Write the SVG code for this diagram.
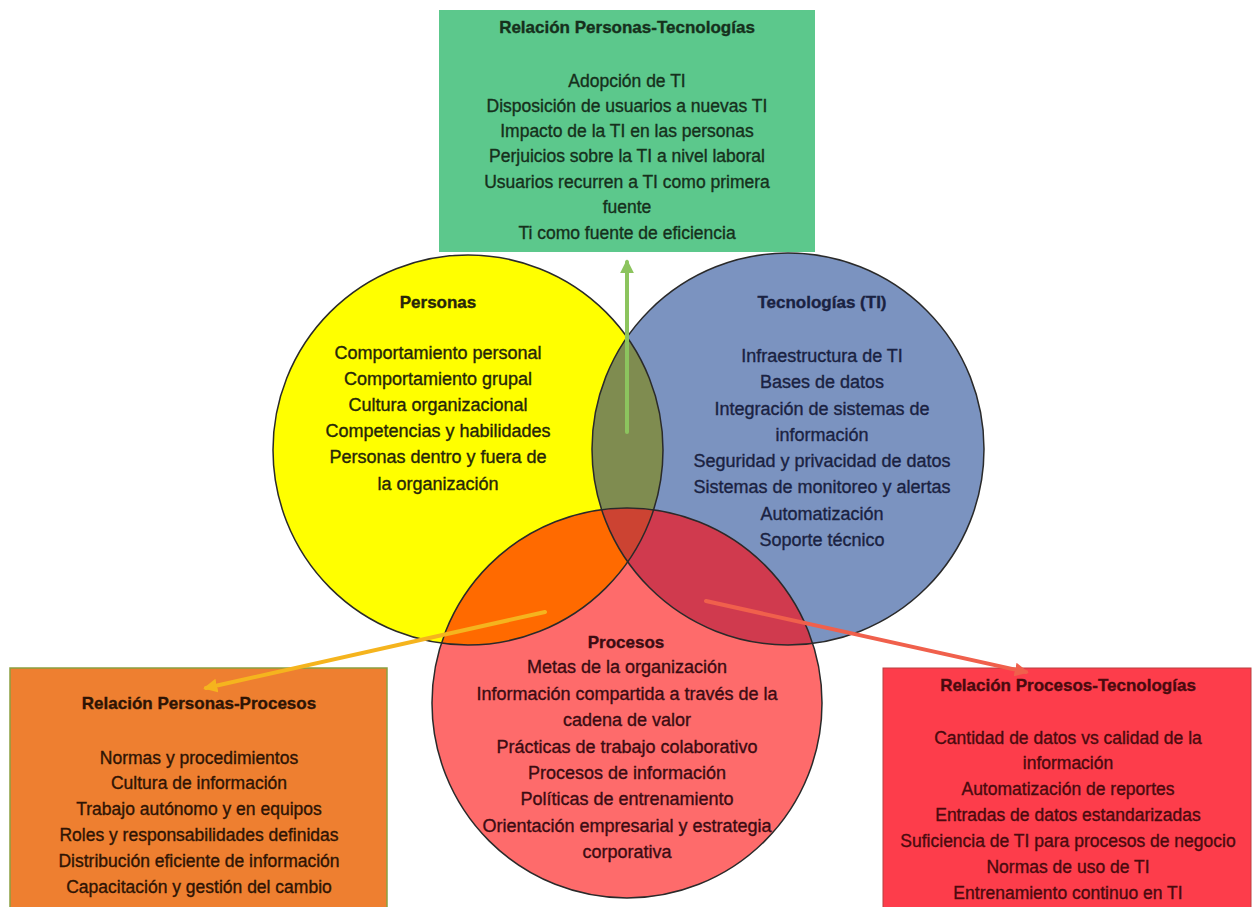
<svg xmlns="http://www.w3.org/2000/svg" width="1254" height="907" viewBox="0 0 1254 907">
<style>
text{font-family:"Liberation Sans",Arial,sans-serif;text-anchor:middle;stroke-width:0.35}
.t{font-weight:bold;font-size:17px}
.b{font-size:17.5px}
.c{font-size:18px}
.outline{fill:none;stroke:#2a2a2a;stroke-width:1.5}
.conn{fill:none;stroke-width:4;stroke-linecap:round}
</style>
<defs>
<clipPath id="cY"><circle cx="468" cy="450" r="195"/></clipPath>
<clipPath id="cB"><circle cx="788" cy="449" r="196"/></clipPath>
<clipPath id="cR"><circle cx="627" cy="703" r="195"/></clipPath>
<marker id="mG" viewBox="0 0 10 10" refX="8" refY="5" markerWidth="3.5" markerHeight="3.5" orient="auto"><path d="M0,0L10,5L0,10z" fill="#8cc45e"/></marker>
<marker id="mY" viewBox="0 0 10 10" refX="8" refY="5" markerWidth="3.5" markerHeight="3.5" orient="auto"><path d="M0,0L10,5L0,10z" fill="#f5b41e"/></marker>
<marker id="mR" viewBox="0 0 10 10" refX="8" refY="5" markerWidth="3.5" markerHeight="3.5" orient="auto"><path d="M0,0L10,5L0,10z" fill="#f0604c"/></marker>
</defs>
<rect width="1254" height="907" fill="#ffffff"/>

<g id="rel-personas-tecnologias">
<rect x="439" y="10" width="376" height="242" fill="#5cc88c"/>
<g fill="#16301c" stroke="#16301c">
<text class="t" x="627" y="33">Relación Personas-Tecnologías</text>
<text class="b" x="627" y="87">Adopción de TI</text>
<text class="b" x="627" y="112">Disposición de usuarios a nuevas TI</text>
<text class="b" x="627" y="137">Impacto de la TI en las personas</text>
<text class="b" x="627" y="162">Perjuicios sobre la TI a nivel laboral</text>
<text class="b" x="627" y="188">Usuarios recurren a TI como primera</text>
<text class="b" x="627" y="213">fuente</text>
<text class="b" x="627" y="239">Ti como fuente de eficiencia</text>
</g>
</g>

<g id="venn-fills">
<circle cx="468" cy="450" r="195" fill="#ffff00"/>
<circle cx="788" cy="449" r="196" fill="#7b93c0"/>
<circle cx="627" cy="703" r="195" fill="#fe6b6b"/>
<g clip-path="url(#cY)"><circle cx="788" cy="449" r="196" fill="#7f8c50"/></g>
<g clip-path="url(#cY)"><circle cx="627" cy="703" r="195" fill="#ff6a00"/></g>
<g clip-path="url(#cB)"><circle cx="627" cy="703" r="195" fill="#d03a4e"/></g>
<g clip-path="url(#cY)"><g clip-path="url(#cB)"><circle cx="627" cy="703" r="195" fill="#cc4332"/></g></g>
</g>

<g id="personas">
<circle class="outline" cx="468" cy="450" r="195"/>
<g fill="#26260a" stroke="#26260a">
<text class="t" x="438" y="308">Personas</text>
<text class="c" x="438" y="359">Comportamiento personal</text>
<text class="c" x="438" y="385">Comportamiento grupal</text>
<text class="c" x="438" y="411">Cultura organizacional</text>
<text class="c" x="438" y="437">Competencias y habilidades</text>
<text class="c" x="438" y="463">Personas dentro y fuera de</text>
<text class="c" x="438" y="490">la organización</text>
</g>
</g>

<g id="tecnologias">
<circle class="outline" cx="788" cy="449" r="196"/>
<g fill="#1a2242" stroke="#1a2242">
<text class="t" x="822" y="308">Tecnologías (TI)</text>
<text class="c" x="822" y="362">Infraestructura de TI</text>
<text class="c" x="822" y="388">Bases de datos</text>
<text class="c" x="822" y="415">Integración de sistemas de</text>
<text class="c" x="822" y="441">información</text>
<text class="c" x="822" y="467">Seguridad y privacidad de datos</text>
<text class="c" x="822" y="493">Sistemas de monitoreo y alertas</text>
<text class="c" x="822" y="520">Automatización</text>
<text class="c" x="822" y="546">Soporte técnico</text>
</g>
</g>

<g id="procesos">
<circle class="outline" cx="627" cy="703" r="195"/>
<g fill="#3c0c12" stroke="#3c0c12">
<text class="t" x="626" y="648">Procesos</text>
<text class="c" x="627" y="673">Metas de la organización</text>
<text class="c" x="627" y="700">Información compartida a través de la</text>
<text class="c" x="627" y="726">cadena de valor</text>
<text class="c" x="627" y="753">Prácticas de trabajo colaborativo</text>
<text class="c" x="627" y="779">Procesos de información</text>
<text class="c" x="627" y="805">Políticas de entrenamiento</text>
<text class="c" x="627" y="832">Orientación empresarial y estrategia</text>
<text class="c" x="627" y="858">corporativa</text>
</g>
</g>

<g id="rel-personas-procesos">
<rect x="10" y="668" width="377" height="245" fill="#ee7f30" stroke="#8aa040" stroke-width="1.5"/>
<g fill="#2e1404" stroke="#2e1404">
<text class="t" x="199" y="709">Relación Personas-Procesos</text>
<text class="b" x="199" y="764">Normas y procedimientos</text>
<text class="b" x="199" y="789">Cultura de información</text>
<text class="b" x="199" y="815">Trabajo autónomo y en equipos</text>
<text class="b" x="199" y="841">Roles y responsabilidades definidas</text>
<text class="b" x="199" y="867">Distribución eficiente de información</text>
<text class="b" x="199" y="893">Capacitación y gestión del cambio</text>
</g>
</g>

<g id="rel-procesos-tecnologias">
<rect x="883" y="668" width="368" height="245" fill="#fd3d4b" stroke="#b84040" stroke-width="1"/>
<g fill="#4a0a0e" stroke="#4a0a0e">
<text class="t" x="1068" y="691">Relación Procesos-Tecnologías</text>
<text class="b" x="1068" y="744">Cantidad de datos vs calidad de la</text>
<text class="b" x="1068" y="769">información</text>
<text class="b" x="1068" y="795">Automatización de reportes</text>
<text class="b" x="1068" y="821">Entradas de datos estandarizadas</text>
<text class="b" x="1068" y="847">Suficiencia de TI para procesos de negocio</text>
<text class="b" x="1068" y="873">Normas de uso de TI</text>
<text class="b" x="1068" y="899">Entrenamiento continuo en TI</text>
</g>
</g>

<g id="connectors">
<line class="conn" x1="627" y1="432" x2="627" y2="262" stroke="#8cc45e" marker-end="url(#mG)"/>
<line class="conn" x1="545" y1="612" x2="206" y2="688" stroke="#f5b41e" marker-end="url(#mY)"/>
<line class="conn" x1="706" y1="601" x2="1026" y2="672" stroke="#f0604c" marker-end="url(#mR)"/>
</g>
</svg>
